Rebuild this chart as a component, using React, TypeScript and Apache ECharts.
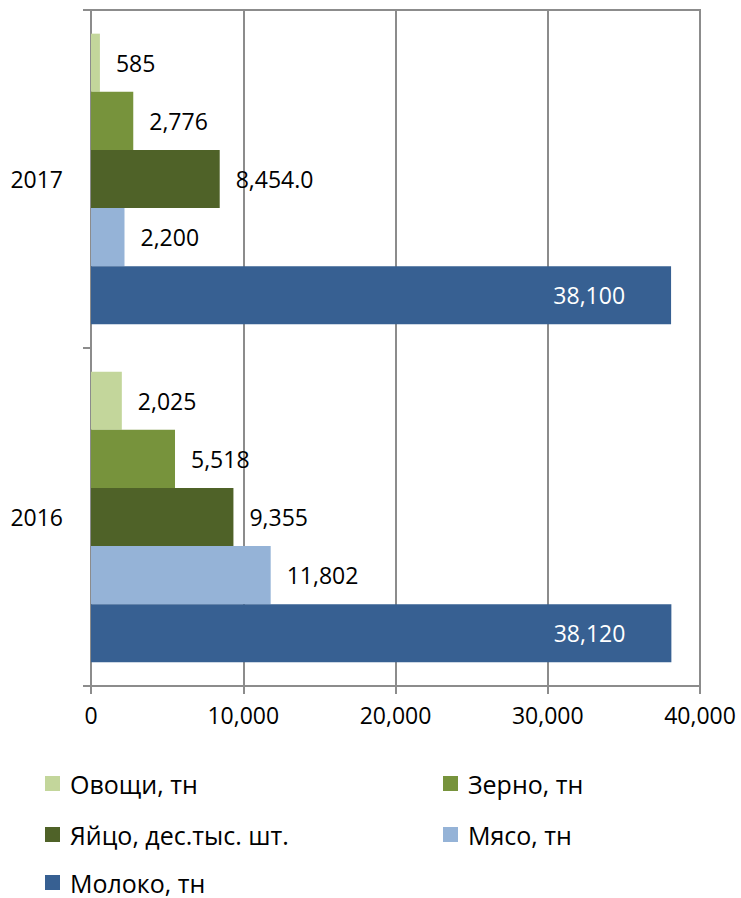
import React, { useEffect, useRef } from "react";
import * as echarts from "echarts";

const categories = ["2016", "2017"];
const seriesNames = ["Овощи, тн", "Зерно, тн", "Яйцо, дес.тыс. шт.", "Мясо, тн", "Молоко, тн"];
const vegetables = [2025, 585];
const grain = [5518, 2776];
const eggs = [9355, 8454.0];
const meat = [11802, 2200];
const milk = [38120, 38100];
const eggsDecimals = [0, 1];
const xTicks = [0, 10000, 20000, 30000, 40000];

const colors = ["#C3D69B", "#77933C", "#4F6228", "#95B3D7", "#376092"];
const FONT = "Open Sans";
const LABEL_SIZE = 23;

function fmt(v: number, d = 0) {
  return v.toLocaleString("en-US", { minimumFractionDigits: d, maximumFractionDigits: d });
}

export default function App() {
  const ref = useRef<HTMLDivElement>(null);
  useEffect(() => {
    if (!ref.current) return;
    const chart = echarts.init(ref.current, undefined, { renderer: "svg" });
    const values = [vegetables, grain, eggs, meat, milk];
    const outsideLabel = (idx: number) => ({
      show: true,
      position: "right",
      distance: 16,
      color: "#000",
      fontFamily: FONT,
      fontSize: LABEL_SIZE,
      formatter: (p: any) => fmt(p.value, idx === 2 ? eggsDecimals[p.dataIndex] : 0),
    });
    const series: any[] = values.map((vals, i) => ({
      name: seriesNames[i],
      type: "bar",
      data: vals,
      barGap: "0%",
      barCategoryGap: "14%",
      itemStyle: { color: colors[i] },
      label:
        i === 4
          ? {
              show: true,
              position: "insideRight",
              distance: 46,
              color: "#fff",
              fontFamily: FONT,
              fontSize: LABEL_SIZE,
              formatter: (p: any) => fmt(p.value),
            }
          : outsideLabel(i),
    }));
    const legendPos = [
      { left: 45, top: 771 },
      { left: 443, top: 771 },
      { left: 45, top: 822 },
      { left: 443, top: 822 },
      { left: 45, top: 870 },
    ];
    const legends = seriesNames.map((n, i) => ({
      data: [n],
      left: legendPos[i].left,
      top: legendPos[i].top,
      itemWidth: 15,
      itemHeight: 15,
      icon: "rect",
      padding: 0,
      textStyle: { fontFamily: FONT, fontSize: 25, color: "#000", padding: [0, 0, 0, 5], lineHeight: 24 },
    }));
    chart.setOption({
      animation: false,
      textStyle: { fontFamily: FONT },
      grid: {
        left: 91,
        right: 41,
        top: 10,
        bottom: 212,
        show: true,
        borderColor: "#8c8c8c",
        borderWidth: 2,
      },
      legend: legends,
      xAxis: {
        type: "value",
        min: xTicks[0],
        max: xTicks[xTicks.length - 1],
        interval: 10000,
        axisLine: { show: true, lineStyle: { color: "#8c8c8c", width: 2 } },
        axisTick: { show: true, length: 8, lineStyle: { color: "#8c8c8c", width: 2 } },
        splitLine: { show: true, lineStyle: { color: "#8c8c8c", width: 2 } },
        axisLabel: {
          margin: 17,
          color: "#000",
          fontFamily: FONT,
          fontSize: LABEL_SIZE,
          formatter: (v: number) => fmt(v),
        },
      },
      yAxis: {
        type: "category",
        data: categories,
        axisLine: { show: true, lineStyle: { color: "#8c8c8c", width: 2 } },
        axisTick: { show: true, length: 8, lineStyle: { color: "#8c8c8c", width: 2 } },
        axisLabel: { margin: 28, color: "#000", fontFamily: FONT, fontSize: LABEL_SIZE },
      },
      series,
    });
    return () => chart.dispose();
  }, []);
  return (
    <div
      ref={ref}
      style={{ position: "fixed", left: 0, top: 0, width: 741, height: 898, background: "#fff" }}
    />
  );
}
